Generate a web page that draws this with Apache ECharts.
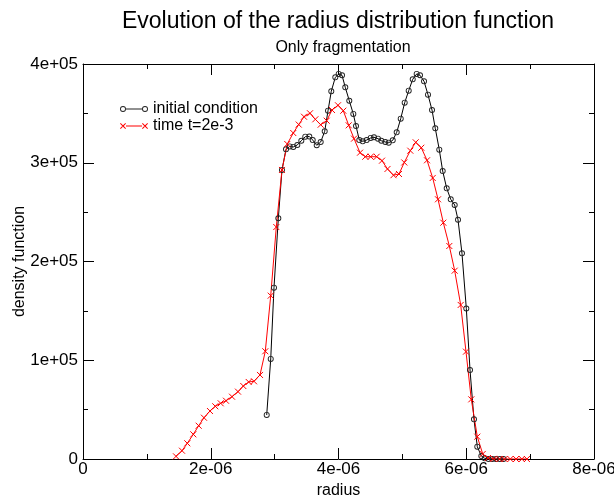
<!DOCTYPE html>
<html>
<head>
<meta charset="utf-8">
<script src="https://cdn.jsdelivr.net/npm/echarts@6/dist/echarts.min.js"></script>
<style>
html,body{margin:0;padding:0;background:#fff;}
#chart{width:614px;height:497px;}
</style>
</head>
<body>
<div id="chart"></div>
<script>
// ---- data ----
const titleText = 'Evolution of the radius distribution function';
const subtitleText = 'Only fragmentation';
const xName = 'radius';
const yName = 'density function';
const seriesNames = ['initial condition', 'time t=2e-3'];
const xTickLabels = ['0', '2e-06', '4e-06', '6e-06', '8e-06'];
const yTickLabels = ['0', '1e+05', '2e+05', '3e+05', '4e+05'];

const initX = [2.876e-6, 2.939e-6, 2.990e-6, 3.058e-6, 3.115e-6, 3.178e-6, 3.236e-6, 3.292e-6, 3.355e-6, 3.418e-6,
  3.480e-6, 3.543e-6, 3.596e-6, 3.659e-6, 3.721e-6, 3.784e-6, 3.836e-6, 3.887e-6, 3.950e-6, 4.003e-6,
  4.055e-6, 4.106e-6, 4.169e-6, 4.232e-6, 4.274e-6, 4.326e-6, 4.379e-6, 4.441e-6, 4.504e-6, 4.556e-6,
  4.618e-6, 4.670e-6, 4.733e-6, 4.786e-6, 4.849e-6, 4.911e-6, 4.974e-6, 5.036e-6, 5.099e-6, 5.162e-6,
  5.224e-6, 5.276e-6, 5.339e-6, 5.401e-6, 5.464e-6, 5.515e-6, 5.578e-6, 5.631e-6, 5.694e-6, 5.757e-6,
  5.819e-6, 5.871e-6, 5.933e-6, 6.001e-6, 6.059e-6, 6.121e-6, 6.173e-6, 6.236e-6, 6.289e-6, 6.348e-6,
  6.407e-6, 6.466e-6, 6.525e-6, 6.583e-6];
const initY = [44600, 101300, 173500, 243800, 292700, 313600, 316500, 316000, 318000, 322300,
  326400, 326600, 323000, 317700, 321000, 331800, 352700, 372400, 386500, 389900,
  388600, 376400, 362800, 349400, 337200, 323000, 321700, 323000, 325100, 325800,
  324400, 322300, 321000, 320300, 322700, 330800, 344600, 360800, 373000, 384500,
  389900, 388600, 382500, 368900, 353400, 334900, 313200, 291600, 274100, 263000,
  257200, 242300, 208300, 152400, 90100, 40200, 12500, 3000, 700, 0,
  0, 0, 0, 0];

const timeX = [1.456e-6, 1.550e-6, 1.633e-6, 1.727e-6, 1.811e-6, 1.894e-6, 1.988e-6, 2.071e-6, 2.156e-6, 2.239e-6,
  2.333e-6, 2.427e-6, 2.510e-6, 2.594e-6, 2.677e-6, 2.771e-6, 2.854e-6, 2.939e-6, 3.026e-6, 3.115e-6,
  3.198e-6, 3.292e-6, 3.377e-6, 3.460e-6, 3.554e-6, 3.637e-6, 3.721e-6, 3.815e-6, 3.898e-6, 3.992e-6,
  4.075e-6, 4.160e-6, 4.243e-6, 4.337e-6, 4.420e-6, 4.504e-6, 4.598e-6, 4.681e-6, 4.767e-6, 4.861e-6,
  4.947e-6, 5.030e-6, 5.124e-6, 5.209e-6, 5.296e-6, 5.386e-6, 5.475e-6, 5.558e-6, 5.641e-6, 5.735e-6,
  5.819e-6, 5.913e-6, 5.996e-6, 6.079e-6, 6.173e-6, 6.258e-6, 6.34e-6, 6.43e-6, 6.52e-6, 6.60e-6,
  6.69e-6, 6.78e-6, 6.87e-6, 6.95e-6];
const timeY = [2700, 8400, 15900, 25000, 33700, 41800, 48600, 53400, 56400, 59000,
  63100, 68200, 73900, 78000, 78700, 85100, 109100, 165400, 234900, 292700,
  319000, 330100, 338700, 346600, 350100, 344000, 338500, 342600, 353400, 358200,
  352700, 337900, 324400, 310200, 306100, 306100, 306100, 302100, 293700, 287400,
  288600, 300300, 312200, 320700, 315200, 302500, 284600, 263000, 239300, 215700,
  190700, 156000, 108700, 60400, 22600, 5100, 1000, 200, 0, 0,
  0, 0, 0, 0];

// ---- chart ----
const FONT = '"Liberation Sans", Arial, sans-serif';
const xMax = 8e-6, xStep = 2e-6, yMax = 4e5, yStep = 1e5;
const pair = (xs, ys) => xs.map((x, i) => [x, ys[i]]);
const xFmt = v => xTickLabels[Math.round(v / xStep)] ?? '';
const yFmt = v => yTickLabels[Math.round(v / yStep)] ?? '';

// marker shapes (filled outlines, hollow inside)
const ring = cx => `M${cx-3},4 A3,3 0 1,1 ${cx+3},4 A3,3 0 1,1 ${cx-3},4 Z M${cx-2.1},4 A2.1,2.1 0 1,0 ${cx+2.1},4 A2.1,2.1 0 1,0 ${cx-2.1},4 Z`;
const cross = cx => `M${cx-3},1.7 L${cx-2.3},1 L${cx+3},6.3 L${cx+2.3},7 Z M${cx+2.3},1 L${cx+3},1.7 L${cx-2.3},7 L${cx-3},6.3 Z`;
const bar = 'M7,3.5 L23,3.5 L23,4.5 L7,4.5 Z';
const iconInit = 'path://' + ring(4) + ' ' + bar + ' ' + ring(26);
const iconTime = 'path://' + cross(4) + ' ' + bar + ' ' + cross(26);
const symInit = 'path://' + ring(4);

function xAxisDef(pos, showLabel) {
  return {
    type: 'value', position: pos, min: 0, max: xMax, interval: xStep,
    name: showLabel ? xName : '', nameLocation: 'middle', nameGap: 21,
    nameTextStyle: { fontFamily: FONT, fontSize: 16, color: '#000' },
    axisLine: { show: true, onZero: false, lineStyle: { color: '#000', width: 1 } },
    axisTick: { show: true, inside: true, length: 11, lineStyle: { color: '#000' } },
    minorTick: { show: true, splitNumber: 2, length: 5, lineStyle: { color: '#000' } },
    axisLabel: { show: showLabel, formatter: xFmt, fontFamily: FONT, fontSize: 17, color: '#000', margin: 2 },
    splitLine: { show: false }, minorSplitLine: { show: false }
  };
}
function yAxisDef(pos, showLabel) {
  return {
    type: 'value', position: pos, min: 0, max: yMax, interval: yStep,
    name: showLabel ? yName : '', nameLocation: 'middle', nameGap: 55, nameRotate: 90,
    nameMoveOverlap: false,
    nameTextStyle: { fontFamily: FONT, fontSize: 16, color: '#000' },
    axisLine: { show: true, onZero: false, lineStyle: { color: '#000', width: 1 } },
    axisTick: { show: true, inside: true, length: 11, lineStyle: { color: '#000' } },
    minorTick: { show: true, splitNumber: 2, length: 5, lineStyle: { color: '#000' } },
    axisLabel: { show: showLabel, formatter: yFmt, fontFamily: FONT, fontSize: 17, color: '#000', margin: 5 },
    splitLine: { show: false }, minorSplitLine: { show: false }
  };
}

const chart = echarts.init(document.getElementById('chart'), null, { renderer: 'canvas' });
chart.setOption({
  animation: false,
  backgroundColor: '#fff',
  title: [
    { text: titleText, left: 333, top: 5, textAlign: 'center',
      textStyle: { fontFamily: FONT, fontSize: 23, fontWeight: 'normal', color: '#000' } },
    { text: subtitleText, left: 338, top: 35, textAlign: 'center',
      textStyle: { fontFamily: FONT, fontSize: 16, fontWeight: 'normal', color: '#000' } }
  ],
  legend: {
    orient: 'vertical', left: 115, top: 96, itemGap: 1, itemWidth: 28, itemHeight: 6,
    textStyle: { fontFamily: FONT, fontSize: 16, color: '#000' },
    data: [
      { name: seriesNames[0], icon: iconInit, itemStyle: { color: '#222', borderWidth: 0 } },
      { name: seriesNames[1], icon: iconTime, itemStyle: { color: '#ff0000', borderWidth: 0 } }
    ]
  },
  grid: { left: 83, right: 20, top: 64, bottom: 38, containLabel: false, outerBoundsMode: 'none' },
  xAxis: [xAxisDef('bottom', true), xAxisDef('top', false)],
  yAxis: [yAxisDef('left', true), yAxisDef('right', false)],
  series: [
    {
      name: seriesNames[0], type: 'line', xAxisIndex: 0, yAxisIndex: 0,
      data: pair(initX, initY),
      symbol: symInit, symbolSize: 6,
      lineStyle: { color: '#000', width: 1 },
      itemStyle: { color: '#222', borderWidth: 0 }
    },
    {
      name: seriesNames[1], type: 'line', xAxisIndex: 0, yAxisIndex: 0,
      data: pair(timeX, timeY),
      symbol: 'path://M0,0L10,10M10,0L0,10', symbolSize: 6,
      lineStyle: { color: '#ff0000', width: 1 },
      itemStyle: { color: '#ff0000', borderColor: '#ff0000', borderWidth: 1 }
    }
  ]
});
</script>
</body>
</html>
